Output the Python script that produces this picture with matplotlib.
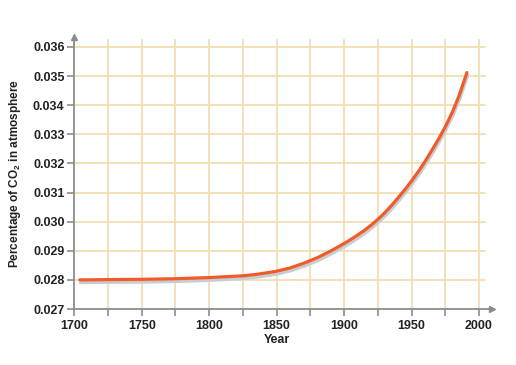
import matplotlib
matplotlib.use("Agg")
import matplotlib.pyplot as plt
import matplotlib.patheffects as pe

years = [1704, 1725, 1750, 1775, 1800, 1825, 1835, 1845, 1850, 1860, 1870, 1880, 1890,
         1900, 1905, 1910, 1915, 1920, 1925, 1930, 1935, 1940, 1945, 1950, 1955,
         1960, 1965, 1970, 1975, 1980, 1985, 1991]
co2 = [0.02800, 0.02801, 0.02802, 0.02804, 0.02808, 0.02814, 0.02819, 0.02826, 0.02830,
       0.02841, 0.02857, 0.02876, 0.02899,
       0.02925, 0.02939, 0.02954, 0.02970, 0.02988, 0.03008, 0.03030, 0.03055, 0.03082,
       0.03110, 0.03140, 0.03172, 0.03207, 0.03245, 0.03284, 0.03326, 0.03374, 0.03430,
       0.03512]

x_ticks = list(range(1700, 2001, 25))
x_labels = [str(y) if y % 50 == 0 else "" for y in x_ticks]
y_ticks = [0.027, 0.028, 0.029, 0.030, 0.031, 0.032, 0.033, 0.034, 0.035, 0.036]
y_labels = ["%.3f" % v for v in y_ticks]

plt.rcParams['font.family'] = ['Liberation Sans', 'DejaVu Sans']
plt.rcParams['mathtext.default'] = 'bf'
plt.rcParams['mathtext.fontset'] = 'custom'
plt.rcParams['mathtext.bf'] = 'Liberation Sans:bold'

fig = plt.figure(figsize=(5.16, 3.65), dpi=100)
ax = fig.add_axes([0.144, 0.1534, 0.8095, 0.745])
xmin, xmax = 1700, 2009.6
ymin, ymax = 0.027, 0.03634
ax.set_xlim(xmin, xmax)
ax.set_ylim(ymin, ymax)

grid_c = '#f2dcae'
gx_end = (2004.5 - xmin) / (xmax - xmin)
for yv in y_ticks[1:]:
    ax.axhline(yv, xmin=0, xmax=gx_end, color=grid_c, lw=1.2, zorder=0)
gy_end = (0.03624 - ymin) / (ymax - ymin)
for xv in x_ticks[1:]:
    ax.axvline(xv, ymin=0, ymax=gy_end, color=grid_c, lw=1.2, zorder=0)

ax.plot(years, co2, color='#f15a29', lw=2.3, solid_capstyle='round', zorder=3,
        path_effects=[pe.SimpleLineShadow(offset=(0.6, -2.0), shadow_color='#c8cdd1', alpha=1.0),
                      pe.Normal()])

for s in ['top', 'right']:
    ax.spines[s].set_visible(False)
for s in ['left', 'bottom']:
    ax.spines[s].set_color('#8c8c8c')
    ax.spines[s].set_linewidth(1.3)

ax.set_xticks(x_ticks)
ax.set_xticklabels(x_labels)
ax.set_yticks(y_ticks)
ax.set_yticklabels(y_labels)
ax.tick_params(axis='both', colors='#8c8c8c', length=5, width=1.2, labelcolor='#222222',
               labelsize=9)
for lab in ax.get_xticklabels() + ax.get_yticklabels():
    lab.set_fontweight('bold')
ax.tick_params(axis='x', pad=3)
ax.tick_params(axis='y', pad=2)

ax.plot([1], [0], marker='>', color='#8c8c8c', markersize=4, transform=ax.transAxes, clip_on=False)
ax.plot([0], [1], marker='^', color='#8c8c8c', markersize=4, transform=ax.transAxes, clip_on=False)

ax.set_xlabel('Year', fontsize=9, fontweight='bold', color='#222222')
ax.xaxis.set_label_coords((1850 - xmin) / (xmax - xmin), -0.092)
ax.set_ylabel('Percentage of CO$_{2}$ in atmosphere', fontsize=8.5, fontweight='bold',
              color='#222222')
ax.yaxis.set_label_coords(-0.122, 0.5)

fig.savefig('out.png', dpi=100)
